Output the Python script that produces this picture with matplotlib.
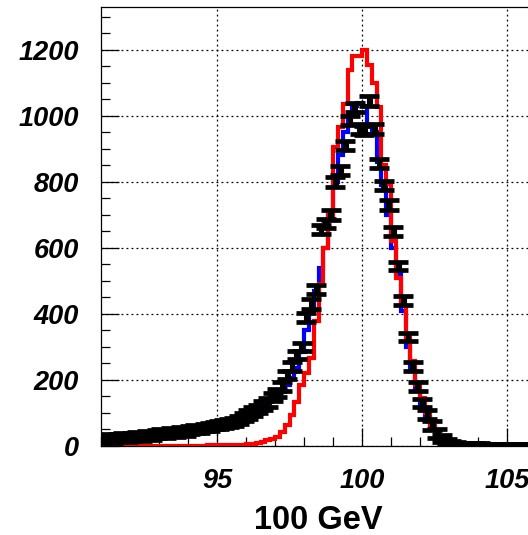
import numpy as np
import matplotlib
matplotlib.use("Agg")
import matplotlib.pyplot as plt
from matplotlib.ticker import MultipleLocator

# binning: 90 bins of 1/6 GeV between 91 and 106
x_lo, x_hi, n_bins = 91.0, 106.0, 90

# red histogram
red_counts = [0, 0, 0, 0, 0, 0, 0, 0, 0, 0, 0, 0, 0, 0, 0, 0, 0, 0, 0, 0,
              1, 1, 2, 2, 2, 2, 3, 3, 3, 4,
              5, 7, 10, 13, 17, 22,
              27, 43, 63, 93, 134, 185,
              220, 266, 380, 490, 601, 700,
              905, 966, 1037, 1139, 1180, 1180,
              1200, 1154, 1100, 1027, 851, 794,
              621, 510, 423, 327, 256, 185,
              144, 100, 60, 38, 22, 8,
              5, 3, 2, 1, 1, 1,
              1, 1, 0, 0, 0, 0, 0, 0, 0, 0, 0, 0]

# blue histogram
blue_counts = [20, 22, 22, 23, 24, 25,
               26, 27, 28, 30, 31, 33,
               35, 37, 39, 41, 43, 45,
               48, 50, 53, 56, 59, 62,
               65, 68, 72, 76, 81, 87,
               93, 100, 108, 117, 128, 140,
               150, 165, 185, 205, 235, 285,
               350, 410, 470, 540, 600, 700,
               800, 880, 950, 1000, 1030, 1040,
               1030, 970, 950, 860, 790, 700,
               600, 520, 410, 300, 230, 170,
               120, 85, 55, 35, 20, 10,
               5, 3, 3, 2, 2, 2,
               1, 1, 1, 1, 1, 1, 1, 1, 1, 1, 1, 1]

# black points (data) and their errors
data_counts = [22, 24, 21, 25, 27, 24,
               27, 30, 26, 33, 30, 36,
               38, 35, 41, 38, 45, 43,
               48, 52, 50, 56, 58, 62,
               64, 67, 70, 74, 80, 88,
               96, 104, 112, 122, 132, 148,
               160, 180, 215, 240, 275, 300,
               390, 430, 475, 655, 675, 700,
               800, 835, 910, 985, 1025, 960,
               955, 1045, 960, 855, 790, 730,
               650, 545, 440, 330, 240, 180,
               130, 95, 62, 38, 22, 12,
               7, 5, 4, 4, 3, 3,
               3, 2, 2, 2, 2, 2, 1, 2, 1, 1, 1, 1]
data_errors = [12, 12, 12, 12, 12, 12,
               12, 12, 12, 12, 12, 12,
               12, 12, 12, 12, 12, 12,
               12, 12, 12, 12, 12, 12,
               12, 12, 12, 12, 12, 12,
               13, 13, 13, 13, 13, 13,
               13, 13, 13, 13, 13, 13,
               14, 14, 14, 14, 14, 14,
               14, 14, 14, 14, 14, 14,
               14, 14, 14, 14, 14, 14,
               13, 13, 13, 13, 13, 13,
               13, 13, 13, 13, 11, 9,
               7, 6, 5, 5, 5, 5,
               5, 5, 5, 5, 5, 5, 5, 5, 5, 5, 5, 5]

x_ticks = [95, 100, 105]
y_ticks = [0, 200, 400, 600, 800, 1000, 1200]
x_title = "100 GeV"

edges = np.linspace(x_lo, x_hi, n_bins + 1)
centers = 0.5 * (edges[:-1] + edges[1:])
half_w = 0.5 * (edges[1] - edges[0])

fig = plt.figure(figsize=(5.28, 5.35), dpi=100)
ax = fig.add_axes([0.1913, 0.1664, 0.8239, 0.8206])

ax.stairs(blue_counts, edges, color="#0000ff", linewidth=3.0, zorder=2)
ax.stairs(red_counts, edges, color="#ff0000", linewidth=3.0, zorder=3)

# vertical errors with wide caps
ax.errorbar(centers, data_counts, yerr=data_errors, fmt="none", ecolor="black",
            elinewidth=3.4, capsize=7.0, capthick=3.4, zorder=4)
# horizontal bin-width bars with small end ticks
ax.errorbar(centers, data_counts, xerr=half_w, fmt="none", ecolor="black",
            elinewidth=3.4, capsize=2.0, capthick=0.8, zorder=4)

ax.set_xlim(x_lo, x_hi)
ax.set_ylim(0, 1330)
ax.set_xticks(x_ticks)
ax.set_yticks(y_ticks)
ax.xaxis.set_minor_locator(MultipleLocator(1))
ax.yaxis.set_minor_locator(MultipleLocator(50))

ax.grid(True, which="major", color="black", linestyle=(0, (1.5, 2.5)), linewidth=0.9)
ax.set_axisbelow(True)

tick_font = dict(family="Liberation Sans", weight="bold", style="italic", size=19.5)
ax.set_xticklabels([str(t) for t in x_ticks], fontdict=tick_font)
ax.set_yticklabels([str(t) for t in y_ticks], fontdict=tick_font)
ax.tick_params(which="both", direction="in", top=False, right=False, color="black", width=0.9)
ax.tick_params(which="major", length=13, pad=16)
ax.tick_params(which="minor", length=6.5)

for side in ["left", "bottom", "top", "right"]:
    ax.spines[side].set_linewidth(0.9)
    ax.spines[side].set_color("black")

ax.set_xlabel(x_title, family="Liberation Sans", weight="bold", size=23.5, labelpad=8)

fig.savefig("out.png", dpi=100)
plt.close(fig)
